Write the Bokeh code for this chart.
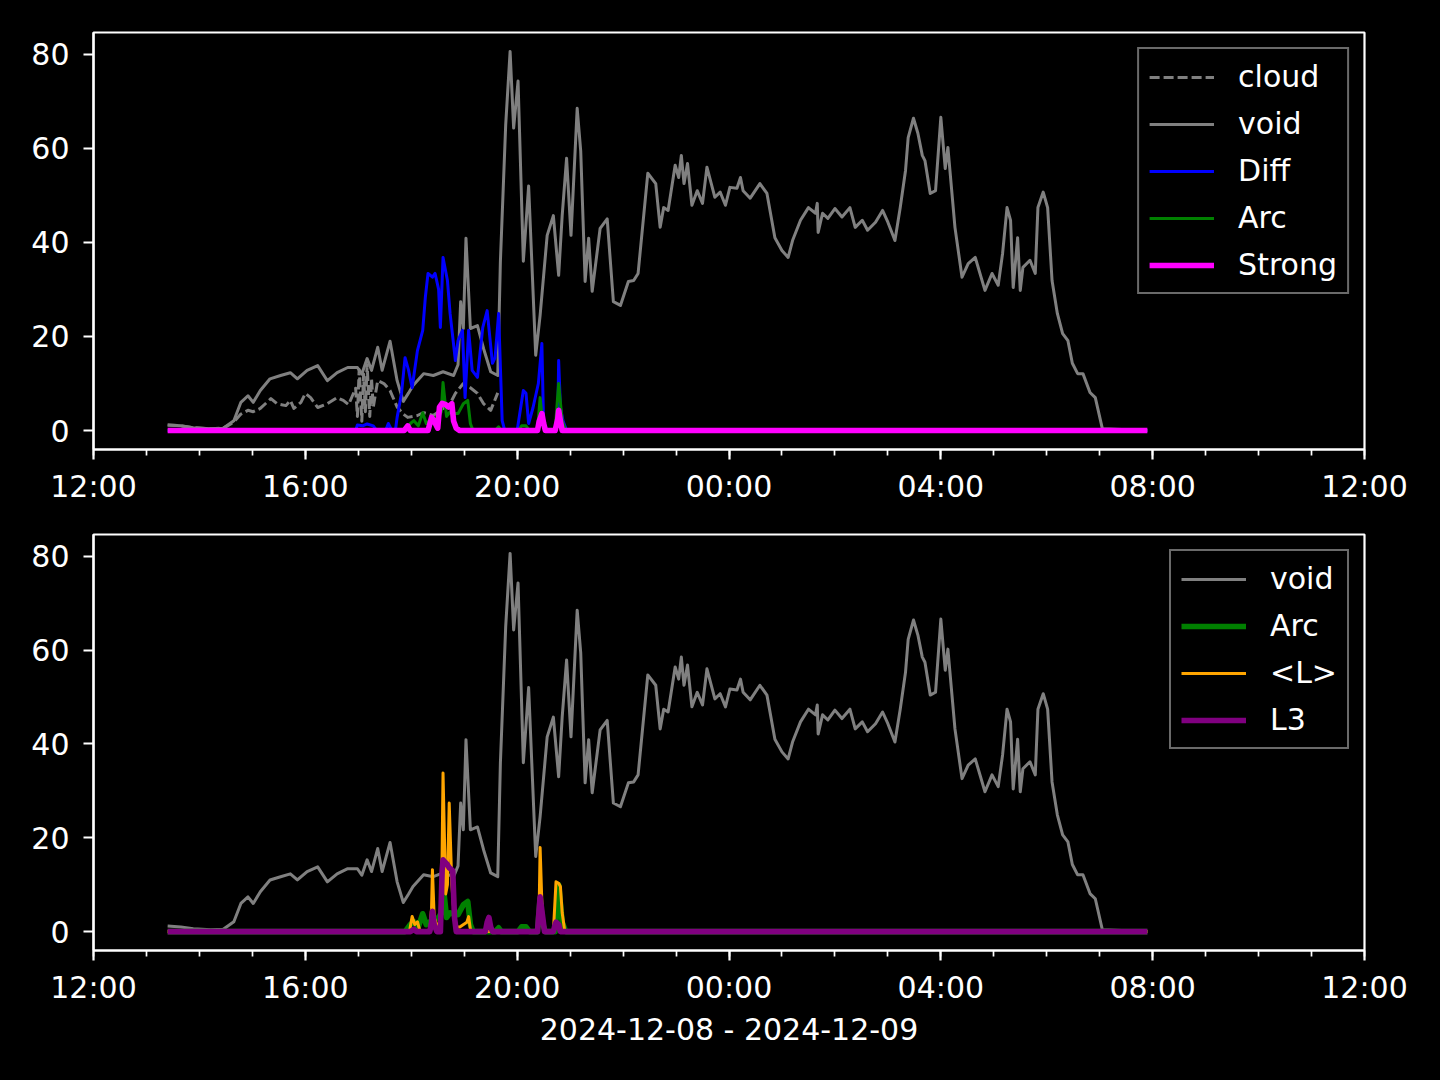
from bokeh.plotting import figure
from bokeh.layouts import column
from bokeh.models import Range1d, FixedTicker
from bokeh.embed import file_html
from bokeh.resources import INLINE

# ---------------- data (clock times, 2024-12-08 12:00 -> 2024-12-09 12:00) ----------------
void_time = ["13:24", "13:39", "13:53", "14:13", "14:27", "14:39", "14:47", "14:55", "15:01", "15:09",
             "15:20", "15:32", "15:43", "15:51", "16:02", "16:14", "16:25", "16:36", "16:48", "16:59",
             "17:04", "17:10", "17:15", "17:22", "17:27", "17:36", "17:44", "17:51", "17:57", "18:02",
             "18:14", "18:25", "18:36", "18:48", "18:53", "18:56", "18:59", "19:02", "19:07", "19:15",
             "19:22", "19:30", "19:38", "19:41", "19:47", "19:52", "19:56", "20:01", "20:07", "20:13",
             "20:21", "20:26", "20:34", "20:41", "20:47", "20:51", "20:56", "21:01", "21:08", "21:12",
             "21:17", "21:21", "21:25", "21:34", "21:42", "21:49", "21:57", "22:06", "22:12", "22:17",
             "22:28", "22:37", "22:42", "22:46", "22:51", "22:59", "23:03", "23:06", "23:09", "23:13",
             "23:18", "23:24", "23:30", "23:35", "23:44", "23:50", "23:56", "00:01", "00:09", "00:13",
             "00:16", "00:24", "00:35", "00:43", "00:52", "01:00", "01:07", "01:12", "01:21", "01:30",
             "01:38", "01:40", "01:41", "01:46", "01:52", "02:00", "02:08", "02:17", "02:23", "02:31",
             "02:37", "02:46", "02:54", "03:00", "03:08", "03:14", "03:20", "03:23", "03:29", "03:34",
             "03:39", "03:42", "03:48", "03:54", "04:00", "04:05", "04:08", "04:16", "04:24", "04:31",
             "04:39", "04:50", "04:58", "05:05", "05:10", "05:15", "05:19", "05:22", "05:27", "05:30",
             "05:33", "05:41", "05:47", "05:50", "05:56", "06:01", "06:06", "06:12", "06:18", "06:24",
             "06:29", "06:35", "06:41", "06:49", "06:55", "07:03", "07:54"]
void_vals = [1.2, 1.0, 0.6, 0.4, 0.5, 2.1, 6.0, 7.4, 6.0, 8.5,
             11.0, 11.7, 12.3, 11.0, 12.8, 13.8, 10.6, 12.3, 13.4, 13.4,
             12.0, 15.3, 12.8, 17.7, 12.8, 19.0, 10.6, 6.2, 8.0, 9.6,
             12.1, 11.7, 12.5, 11.7, 14.0, 27.4, 21.7, 40.9, 21.7, 22.3,
             17.4, 12.5, 11.7, 36.0, 65.0, 80.6, 64.3, 74.3, 36.0, 52.0,
             16.0, 24.5, 41.5, 45.7, 33.0, 45.7, 57.9, 41.5, 68.5, 59.4,
             31.7, 40.9, 29.6, 43.0, 45.0, 27.4, 26.6, 31.7, 31.9, 33.4,
             54.7, 52.5, 43.2, 47.4, 46.8, 56.4, 53.8, 58.5, 52.5, 56.8,
             47.9, 51.0, 48.3, 56.0, 49.6, 50.7, 47.9, 51.7, 51.5, 53.8,
             51.0, 49.4, 52.5, 50.4, 41.0, 38.3, 36.8, 40.4, 44.7, 47.4,
             46.2, 48.3, 42.1, 46.2, 45.1, 47.2, 45.4, 47.4, 43.2, 44.7,
             42.6, 44.3, 46.8, 44.3, 40.4, 47.4, 55.3, 62.3, 66.4, 63.2,
             58.5, 57.4, 50.4, 51.0, 66.6, 55.7, 60.2, 43.2, 32.6, 35.5,
             36.8, 29.8, 33.4, 30.9, 37.7, 47.4, 44.7, 30.4, 41.0, 29.8,
             34.7, 36.2, 33.4, 47.4, 50.7, 47.4, 31.9, 24.9, 20.6, 19.1,
             14.3, 12.1, 12.1, 8.1, 7.0, 0.4, 0.0]

cloud_time = ["13:24", "13:39", "13:53", "14:13", "14:27", "14:39", "14:47", "14:55", "15:01", "15:09",
              "15:21", "15:28", "15:38", "15:43", "15:47", "15:55", "16:00", "16:06", "16:14", "16:25",
              "16:36", "16:43", "16:49", "16:57", "16:59", "17:01", "17:04", "17:06", "17:08", "17:10",
              "17:13", "17:15", "17:17", "17:22", "17:29", "17:36", "17:44", "17:51", "17:56", "18:07",
              "18:14", "18:25", "18:33", "18:44", "18:50", "18:59", "19:07", "19:15", "19:22", "19:30",
              "19:38"]
cloud_vals = [1.2, 1.0, 0.6, 0.4, 0.5, 1.8, 3.5, 4.3, 4.0, 4.7,
              6.8, 5.7, 5.3, 6.4, 4.7, 6.0, 7.9, 7.0, 4.9, 5.7,
              7.0, 6.4, 5.5, 9.0, 3.0, 13.0, 2.0, 12.0, 4.0, 14.0,
              3.0, 11.0, 5.0, 10.6, 10.0, 8.5, 5.0, 3.5, 2.8, 3.2,
              3.8, 3.2, 4.3, 5.7, 7.9, 10.0, 9.1, 7.9, 5.7, 4.3,
              8.0]

diff_time = ["13:24", "16:57", "16:59", "17:05", "17:10", "17:17", "17:21", "17:31", "17:34", "17:38",
             "17:42", "17:44", "17:49", "17:53", "17:57", "18:01", "18:07", "18:13", "18:16", "18:19",
             "18:24", "18:27", "18:31", "18:33", "18:36", "18:41", "18:44", "18:50", "18:53", "18:58",
             "19:01", "19:05", "19:09", "19:15", "19:21", "19:26", "19:32", "19:35", "19:39", "19:43",
             "19:46", "20:00", "20:04", "20:07", "20:10", "20:13", "20:18", "20:24", "20:28", "20:30",
             "20:33", "20:43", "20:46", "20:47", "20:49", "20:52", "20:56", "07:54"]
diff_vals = [0.0, 0.0, 1.2, 1.0, 1.4, 1.0, 0.0, 0.0, 1.5, 0.0,
             0.0, 2.8, 8.0, 15.5, 12.8, 9.1, 17.0, 21.3, 28.4, 33.4,
             32.6, 33.4, 30.0, 21.9, 36.8, 31.9, 24.9, 14.9, 19.1, 21.3,
             7.0, 21.3, 12.8, 11.3, 21.9, 25.5, 14.3, 15.5, 24.9, 2.1,
             0.0, 0.0, 4.9, 8.5, 7.9, 1.5, 4.9, 10.0, 18.5, 0.6,
             0.0, 0.0, 1.5, 14.9, 4.9, 2.0, 0.0, 0.0]

arc_time = ["13:24", "17:53", "17:59", "18:03", "18:08", "18:13", "18:17", "18:24", "18:31", "18:34",
            "18:36", "18:40", "18:44", "18:50", "18:53", "18:59", "19:04", "19:07", "19:10", "19:35",
            "19:39", "19:42", "20:01", "20:05", "20:10", "20:14", "20:23", "20:26", "20:29", "20:32",
            "20:43", "20:47", "20:51", "20:55", "07:54"]
arc_vals = [0.0, 0.0, 1.5, 2.1, 1.0, 3.8, 1.5, 2.5, 3.0, 4.0,
            10.2, 3.0, 4.0, 3.6, 3.6, 5.7, 6.4, 1.5, 0.0, 0.0,
            0.8, 0.0, 0.0, 1.0, 1.0, 0.0, 0.0, 7.0, 1.5, 0.0,
            0.0, 10.0, 2.0, 0.0, 0.0]

strong_time = ["13:24", "17:52", "17:56", "17:59", "18:19", "18:23", "18:26", "18:30", "18:32", "18:35",
               "18:39", "18:42", "18:46", "18:48", "18:51", "18:55", "20:23", "20:25", "20:28", "20:30",
               "20:32", "20:43", "20:46", "20:47", "20:49", "20:51", "07:54"]
strong_vals = [0.0, 0.0, 1.0, 0.0, 0.0, 2.8, 2.0, 0.5, 5.0, 5.8,
               5.5, 5.0, 5.7, 2.0, 0.5, 0.0, 0.0, 2.0, 3.6, 1.5,
               0.0, 0.0, 2.5, 4.3, 2.0, 0.0, 0.0]

lmean_time = ["13:24", "17:58", "18:01", "18:04", "18:07", "18:10", "18:21", "18:23", "18:24", "18:26",
              "18:30", "18:34", "18:36", "18:39", "18:41", "18:43", "18:46", "18:48", "18:49", "18:51",
              "18:55", "19:03", "19:05", "19:07", "19:09", "20:23", "20:25", "20:26", "20:28", "20:30",
              "20:41", "20:43", "20:44", "20:47", "20:49", "20:51", "20:54", "07:54"]
lmean_vals = [0.0, 0.0, 3.2, 1.5, 2.1, 0.0, 0.0, 5.0, 13.2, 3.0,
              1.0, 1.0, 33.8, 8.0, 10.0, 27.4, 10.0, 5.0, 4.0, 1.0,
              1.0, 2.0, 3.2, 0.5, 0.0, 0.0, 6.0, 17.9, 6.0, 0.0,
              0.0, 7.0, 10.6, 10.3, 9.6, 4.0, 0.0, 0.0]

l3_time = ["13:24", "17:59", "18:03", "18:06", "18:21", "18:23", "18:24", "18:26", "18:29", "18:33",
           "18:35", "18:36", "18:40", "18:43", "18:47", "18:49", "18:51", "19:24", "19:26", "19:28",
           "19:30", "19:32", "20:23", "20:25", "20:26", "20:29", "20:31", "20:41", "20:43", "20:44",
           "20:47", "20:49", "07:54"]
l3_vals = [0.0, 0.0, 0.5, 0.0, 0.0, 2.0, 4.3, 1.5, 0.0, 0.0,
           13.0, 15.3, 14.5, 13.6, 13.0, 3.0, 0.0, 0.0, 2.0, 3.0,
           1.0, 0.0, 0.0, 5.0, 7.4, 3.0, 0.0, 0.0, 1.5, 2.0,
           1.5, 0.0, 0.0]

x_tick_hours = [0, 4, 8, 12, 16, 20, 24]
x_tick_labels = ["12:00", "16:00", "20:00", "00:00", "04:00", "08:00", "12:00"]
y_ticks = [0, 20, 40, 60, 80]
date_label = "2024-12-08 - 2024-12-09"


def hrs(t):
    h, m = map(int, t.split(":"))
    if h < 12:
        h += 24
    return h - 12 + m / 60.0


def hx(times):
    return [hrs(t) for t in times]


FONT = "DejaVu Sans"
FS = "30px"


def make_fig(top_border, bottom_border, xlabel=None):
    p = figure(frame_width=1271, frame_height=417 if xlabel is None else 416,
               x_range=Range1d(0, 24), y_range=Range1d(-4.03, 84.63),
               output_backend="svg", toolbar_location=None,
               min_border_left=93, min_border_right=60,
               min_border_top=top_border, min_border_bottom=bottom_border,
               background_fill_color="black", border_fill_color="black")
    p.outline_line_color = "white"
    p.outline_line_width = 2.2
    p.xgrid.visible = False
    p.ygrid.visible = False
    for ax in (p.xaxis[0], p.yaxis[0]):
        ax.axis_line_color = "white"
        ax.axis_line_width = 2.2
        ax.major_tick_line_color = "white"
        ax.major_tick_line_width = 2.2
        ax.major_tick_out = 10
        ax.major_tick_in = 0
        ax.major_label_text_color = "white"
        ax.major_label_text_font = FONT
        ax.major_label_text_font_size = FS
        ax.major_label_standoff = 9
    xa = p.xaxis[0]
    xa.ticker = FixedTicker(ticks=x_tick_hours, minor_ticks=list(range(25)))
    xa.major_label_overrides = {h: l for h, l in zip(x_tick_hours, x_tick_labels)}
    xa.minor_tick_line_color = "white"
    xa.minor_tick_line_width = 1.7
    xa.minor_tick_out = 6
    xa.minor_tick_in = 0
    ya = p.yaxis[0]
    ya.ticker = FixedTicker(ticks=y_ticks, minor_ticks=[])
    ya.minor_tick_line_color = None
    ya.major_label_standoff = 14
    if xlabel:
        xa.axis_label = xlabel
        xa.axis_label_text_color = "white"
        xa.axis_label_text_font = FONT
        xa.axis_label_text_font_size = FS
        xa.axis_label_text_font_style = "normal"
        xa.axis_label_standoff = 4
    return p


def style_legend(p):
    lg = p.legend[0]
    lg.location = "top_right"
    lg.margin = 15
    lg.padding = 10
    lg.spacing = 12
    lg.glyph_width = 65
    lg.glyph_height = 30
    lg.label_height = 30
    lg.label_standoff = 24
    lg.label_text_color = "white"
    lg.label_text_font = FONT
    lg.label_text_font_size = FS
    lg.background_fill_color = "black"
    lg.background_fill_alpha = 0.8
    lg.border_line_color = "#d4d4d4"
    lg.border_line_width = 2.5


LW = 3.0

# ---------------- top panel ----------------
p1 = make_fig(32, 60)
p1.line(hx(cloud_time), cloud_vals, color="gray", line_width=LW, line_dash="10 4",
        line_join="round", legend_label="cloud")
p1.line(hx(void_time), void_vals, color="gray", line_width=LW, line_join="round", legend_label="void")
p1.line(hx(diff_time), diff_vals, color="blue", line_width=LW, line_join="round", legend_label="Diff")
p1.line(hx(arc_time), arc_vals, color="green", line_width=LW, line_join="round", legend_label="Arc")
p1.line(hx(strong_time), strong_vals, color="magenta", line_width=5.6, line_join="round",
        legend_label="Strong")
style_legend(p1)

# ---------------- bottom panel ----------------
p2 = make_fig(25, 100, xlabel=date_label)
p2.line(hx(void_time), void_vals, color="gray", line_width=LW, line_join="round", legend_label="void")
p2.line(hx(arc_time), arc_vals, color="green", line_width=5.6, line_join="round", legend_label="Arc")
p2.line(hx(lmean_time), lmean_vals, color="orange", line_width=LW, line_join="round", legend_label="<L>")
p2.line(hx(l3_time), l3_vals, color="purple", line_width=5.6, line_join="round", legend_label="L3")
style_legend(p2)

layout = column(p1, p2, spacing=0, background="black")

html = file_html(layout, INLINE, title="chart")
html = html.replace("</head>", "<style>html, body { background: #000000; }</style></head>", 1)
open("out.html", "w").write(html)
